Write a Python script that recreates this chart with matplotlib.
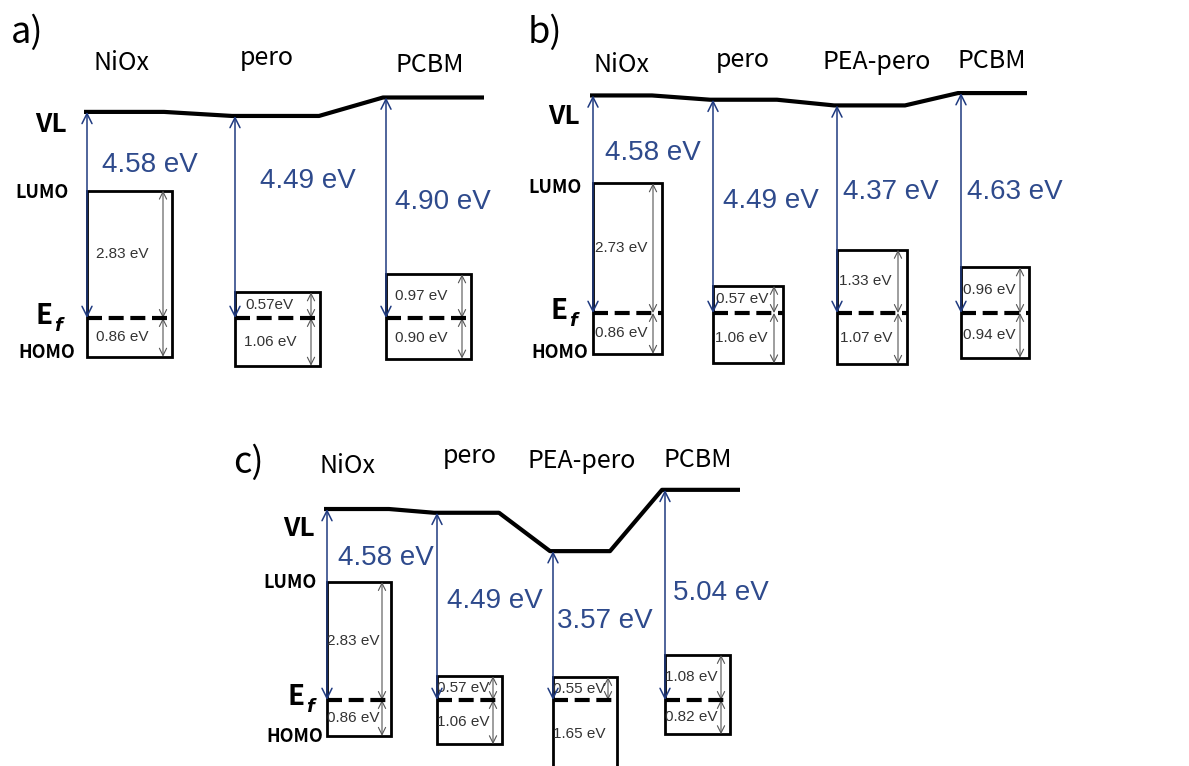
import matplotlib
matplotlib.use("Agg")
import matplotlib.pyplot as plt
from matplotlib.patches import Rectangle

W, H = 1189, 766

# ---- data (eV, relative to the Fermi level) ----
layers_a = ['NiOx', 'pero', 'PCBM']
wf_a = [4.58, 4.49, 4.90]
lumo_a = [2.83, 0.57, 0.97]
homo_a = [0.86, 1.06, 0.90]

layers_b = ['NiOx', 'pero', 'PEA-pero', 'PCBM']
wf_b = [4.58, 4.49, 4.37, 4.63]
lumo_b = [2.73, 0.57, 1.33, 0.96]
homo_b = [0.86, 1.06, 1.07, 0.94]

layers_c = ['NiOx', 'pero', 'PEA-pero', 'PCBM']
wf_c = [4.58, 4.49, 3.57, 5.04]
lumo_c = [2.83, 0.57, 0.55, 1.08]
homo_c = [0.86, 1.06, 1.65, 0.82]

# ---- layout (figure pixels) ----
panels = [
    dict(tag='a)', tag_xy=(27, 33), ef=318, s=45.0,
         layers=layers_a, wf=wf_a, lumo=lumo_a, homo=homo_a,
         x=[87, 235, 386], bw=[85, 85, 85], vl_len=[80, 87, 101],
         name_x=[121, 267, 430], name_y=[70, 65, 72],
         wf_x=[102, 260, 395], wf_y=[172, 188, 209],
         sep=[' ', '', ' '],
         left_x=47, vl_y=125, lumo_y=193, homo_y=353, e_xy=(44, 316)),
    dict(tag='b)', tag_xy=(545, 33), ef=313, s=47.5,
         layers=layers_b, wf=wf_b, lumo=lumo_b, homo=homo_b,
         x=[593, 713, 837, 961], bw=[69, 70, 70, 68], vl_len=[62, 67, 71, 69],
         name_x=[621, 743, 877, 992], name_y=[72, 67, 69, 68],
         wf_x=[605, 723, 843, 967], wf_y=[160, 208, 199, 199],
         sep=[' ', ' ', ' ', ' '],
         left_x=560, vl_y=117, lumo_y=187, homo_y=352, e_xy=(559, 311)),
    dict(tag='c)', tag_xy=(248, 463), ef=700, s=41.7,
         layers=layers_c, wf=wf_c, lumo=lumo_c, homo=homo_c,
         x=[327, 437, 553, 665], bw=[64, 65, 64, 65], vl_len=[65, 65, 60, 78],
         name_x=[348, 470, 582, 698], name_y=[473, 463, 468, 467],
         wf_x=[338, 447, 557, 673], wf_y=[565, 608, 628, 600],
         sep=[' ', ' ', ' ', ' '],
         left_x=295, vl_y=529, lumo_y=583, homo_y=737, e_xy=(296, 697)),
]

NAVY = '#1f3a80'
NAVY_TXT = '#2e4a8c'
LABEL_FONT = ['Noto Sans CJK SC', 'DejaVu Sans']
NUM_FONT = ['Liberation Sans', 'DejaVu Sans']

fig = plt.figure(figsize=(W / 100, H / 100), dpi=100)
fig.patch.set_facecolor('white')

for p in panels:
    ax = fig.add_axes([0, 0, 1, 1])
    ax.patch.set_alpha(0)
    ef, s = p['ef'], p['s']
    ax.set_xlim(0, W)
    ax.set_ylim((ef - H) / s, ef / s)
    ax.axis('off')
    row = lambda r: (ef - r) / s

    ax.text(p['tag_xy'][0], row(p['tag_xy'][1]), p['tag'], fontsize=26,
            family=LABEL_FONT, ha='center', va='center')

    # vacuum level line
    vx, vy = [], []
    for x0, L, wf in zip(p['x'], p['vl_len'], p['wf']):
        vx += [x0 - 3, x0 - 3 + L]
        vy += [wf, wf]
    ax.plot(vx, vy, color='black', lw=3, solid_capstyle='butt', zorder=3)

    for i, name in enumerate(p['layers']):
        x0, w = p['x'][i], p['bw'][i]
        wf, cb, vb = p['wf'][i], p['lumo'][i], p['homo'][i]

        ax.text(p['name_x'][i], row(p['name_y'][i]), name, fontsize=18,
                family=LABEL_FONT, ha='center', va='baseline')

        # band box
        ax.add_patch(Rectangle((x0, -vb), w, cb + vb, fill=False,
                               ec='black', lw=2, zorder=2))
        # Fermi level
        ax.plot([x0, x0 + w], [0, 0], color='black', lw=3,
                dashes=(3.6, 1.6), zorder=4)

        # work function arrow
        ax.annotate('', xy=(x0, 0), xytext=(x0, wf),
                    arrowprops=dict(arrowstyle='<->', color=NAVY, lw=1.1,
                                    mutation_scale=18, shrinkA=0, shrinkB=0),
                    zorder=5)
        ax.text(p['wf_x'][i], row(p['wf_y'][i]), f'{wf:.2f} eV', fontsize=20,
                family=NUM_FONT, color=NAVY_TXT, ha='left', va='baseline')

        # gap arrows inside the box
        ax_x = x0 + w - 9
        for y0, y1 in [(cb, 0), (0, -vb)]:
            ax.annotate('', xy=(ax_x, y1), xytext=(ax_x, y0),
                        arrowprops=dict(arrowstyle='<->', color='#555555',
                                        lw=0.8, mutation_scale=13,
                                        shrinkA=0, shrinkB=0), zorder=3)
        tx = x0 + 0.41 * w
        ax.text(tx, cb / 2, f'{cb:.2f}{p["sep"][i]}eV', fontsize=11,
                family=NUM_FONT, color='#333333', ha='center', va='center')
        ax.text(tx, -vb / 2, f'{vb:.2f} eV', fontsize=11,
                family=NUM_FONT, color='#333333', ha='center', va='center')

    # side labels
    lx = p['left_x']
    ax.text(lx + 4, row(p['vl_y']), 'VL', fontsize=19, fontweight='bold',
            family=LABEL_FONT, ha='center', va='center')
    ax.text(lx - 5, row(p['lumo_y']), 'LUMO', fontsize=13, fontweight='bold',
            family=LABEL_FONT, ha='center', va='center')
    ax.text(lx, row(p['homo_y']), 'HOMO', fontsize=13, fontweight='bold',
            family=LABEL_FONT, ha='center', va='center')
    ex, ey = p['e_xy']
    ax.text(ex, row(ey), 'E', fontsize=20, fontweight='bold',
            family=LABEL_FONT, ha='center', va='center')
    ax.text(ex + 14, row(ey + 10), 'f', fontsize=13, fontweight='bold',
            style='italic', family=['DejaVu Sans'], ha='center', va='center')

fig.savefig('out.png', dpi=100, facecolor='white')
